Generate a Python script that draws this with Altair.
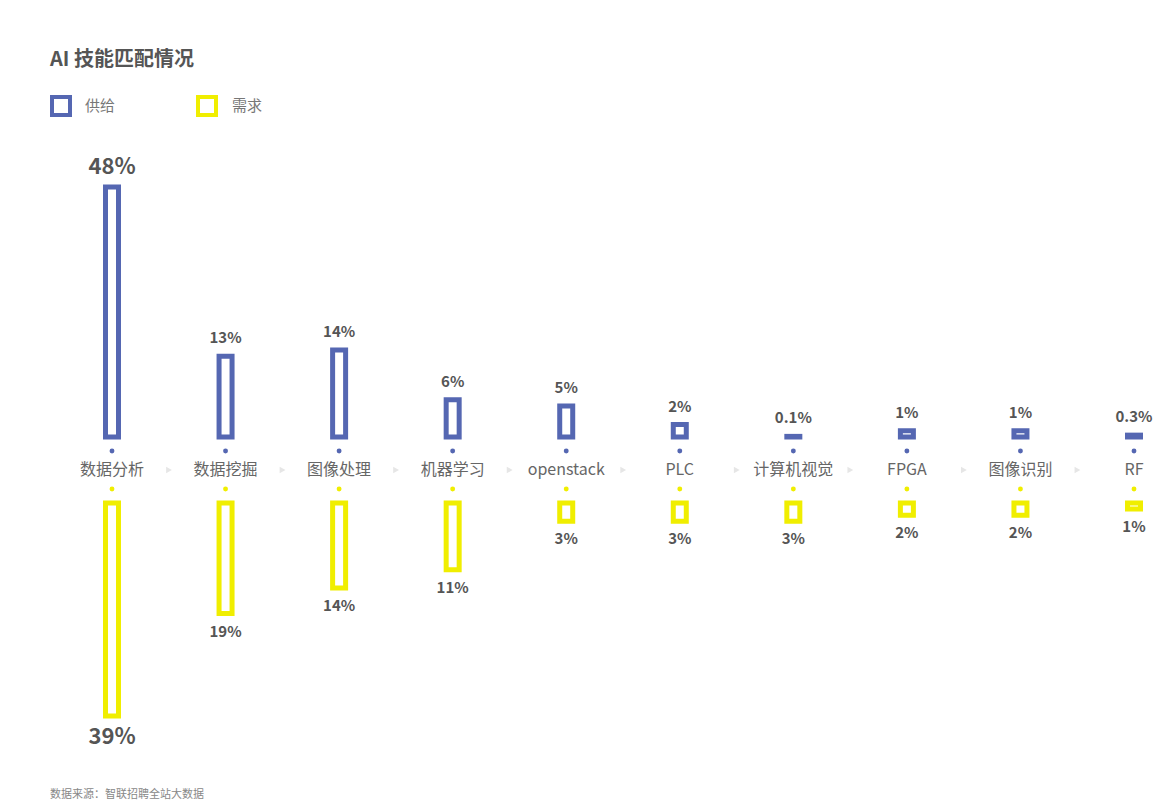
import altair as alt
import pandas as pd

cats = ["数据分析", "数据挖掘", "图像处理", "机器学习", "openstack", "PLC", "计算机视觉", "FPGA", "图像识别", "RF"]
supply = [48, 13, 14, 6, 5, 2, 0.1, 1, 1, 0.3]
supply_lbl = ["48%", "13%", "14%", "6%", "5%", "2%", "0.1%", "1%", "1%", "0.3%"]
demand = [39, 19, 14, 11, 3, 3, 3, 2, 2, 1]
demand_lbl = ["39%", "19%", "14%", "11%", "3%", "3%", "3%", "2%", "2%", "1%"]

BLUE = "#5567b2"
YELLOW = "#f0ee00"
FONT = "Noto Sans CJK SC"

df = pd.DataFrame({"cat": cats, "supply": supply, "slbl": supply_lbl,
                   "demand": demand, "dlbl": demand_lbl})
arrows = pd.DataFrame({"cat": cats[:-1]})

xenc = alt.X("cat:N", scale=alt.Scale(type="point", domain=cats, range=[112, 1134], padding=0), axis=None)
sscale = alt.Scale(domain=[0, 14, 48], range=[437, 350, 187], nice=False, zero=False)
dscale = alt.Scale(domain=[0, 14, 39], range=[503, 588, 716], nice=False, zero=False)

base = alt.Chart(df)

sup_bar = base.mark_bar(size=13, fill="white", stroke=BLUE, strokeWidth=5).encode(
    x=xenc, y=alt.Y("supply:Q", scale=sscale, axis=None), y2=alt.datum(0))
dem_bar = base.mark_bar(size=13, fill="white", stroke=YELLOW, strokeWidth=5).encode(
    x=xenc, y=alt.Y("demand:Q", scale=dscale, axis=None), y2=alt.datum(0))

sup_txt = base.mark_text(font=FONT, fontWeight="bold", color="#555555", baseline="alphabetic", dy=-13).encode(
    x=xenc, y=alt.Y("supply:Q", scale=sscale, axis=None), text="slbl:N",
    size=alt.condition("datum.supply > 30", alt.value(22), alt.value(15)))
dem_txt = base.mark_text(font=FONT, fontWeight="bold", color="#555555", baseline="top", dy=11).encode(
    x=xenc, y=alt.Y("demand:Q", scale=dscale, axis=None), text="dlbl:N",
    size=alt.condition("datum.demand > 30", alt.value(22), alt.value(15)))

sup_dot = base.mark_circle(size=24, color=BLUE, opacity=1).encode(x=xenc, y=alt.value(451))
dem_dot = base.mark_circle(size=24, color=YELLOW, opacity=1).encode(x=xenc, y=alt.value(489))

cat_txt = base.mark_text(font=FONT, fontSize=16, color="#666666", baseline="middle").encode(
    x=xenc, y=alt.value(470), text="cat:N")

arrow = alt.Chart(arrows).mark_point(shape="triangle-right", filled=True, size=45, color="#e6e6e6", opacity=1).encode(
    x=xenc, xOffset=alt.value(57), y=alt.value(470))

title = alt.Chart(pd.DataFrame({"t": ["AI 技能匹配情况"]})).mark_text(
    font=FONT, fontSize=20, fontWeight="bold", color="#555555", align="left", baseline="middle").encode(
    x=alt.value(50), y=alt.value(60), text="t:N")

leg_blue = alt.Chart(pd.DataFrame({"a": [0]})).mark_rect(fill="white", stroke=BLUE, strokeWidth=4).encode(
    x=alt.value(52), x2=alt.value(70), y=alt.value(97), y2=alt.value(115))
leg_yel = alt.Chart(pd.DataFrame({"a": [0]})).mark_rect(fill="white", stroke=YELLOW, strokeWidth=4).encode(
    x=alt.value(198), x2=alt.value(216), y=alt.value(97), y2=alt.value(115))
leg_t1 = alt.Chart(pd.DataFrame({"t": ["供给"]})).mark_text(
    font=FONT, fontSize=15, color="#777777", align="left", baseline="middle").encode(
    x=alt.value(85), y=alt.value(106), text="t:N")
leg_t2 = alt.Chart(pd.DataFrame({"t": ["需求"]})).mark_text(
    font=FONT, fontSize=15, color="#777777", align="left", baseline="middle").encode(
    x=alt.value(232), y=alt.value(106), text="t:N")
footer = alt.Chart(pd.DataFrame({"t": ["数据来源：智联招聘全站大数据"]})).mark_text(
    font=FONT, fontSize=11, color="#888888", align="left", baseline="middle").encode(
    x=alt.value(50), y=alt.value(795), text="t:N")

chart = alt.layer(
    arrow, sup_bar, dem_bar, sup_txt, dem_txt, sup_dot, dem_dot, cat_txt,
    title, leg_blue, leg_yel, leg_t1, leg_t2, footer
).resolve_scale(y="independent").properties(
    width=1161, height=805, padding=0, autosize=alt.AutoSizeParams(type="none"),
    background="white"
).configure_view(stroke=None)

chart.save("out.html", embed_options={"renderer": "svg", "actions": False})
